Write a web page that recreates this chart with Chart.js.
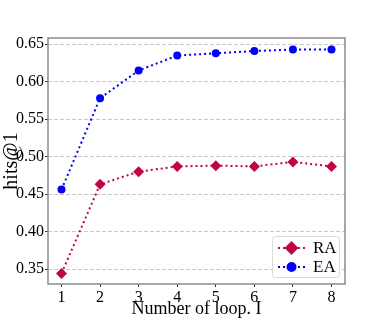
<!DOCTYPE html>
<html><head><meta charset="utf-8">
<script src="https://cdn.jsdelivr.net/npm/chart.js@4.4.0/dist/chart.umd.min.js"></script>
<style>html,body{margin:0;padding:0;background:#fff;}#wrap{width:384px;height:320px;}</style>
</head><body><div id="wrap"><canvas id="c" width="384" height="320"></canvas></div>
<script>
const loops = [1, 2, 3, 4, 5, 6, 7, 8];
const raValues = [0.344, 0.463, 0.480, 0.487, 0.488, 0.487, 0.493, 0.487];
const eaValues = [0.456, 0.578, 0.615, 0.635, 0.638, 0.641, 0.643, 0.643];
const yTicks = [0.35, 0.40, 0.45, 0.50, 0.55, 0.60, 0.65];
const xTicks = [1, 2, 3, 4, 5, 6, 7, 8];
const seriesNames = ['RA', 'EA'];

const RA_COLOR = '#c1044a';
const EA_COLOR = '#0000ff';
const FONT = '"Liberation Serif", "DejaVu Serif", serif';

const toPts = (vals) => vals.map((v, i) => ({x: loops[i], y: v}));

const boxPlugin = {
  id: 'box',
  afterDatasetsDraw(chart) {
    const a = chart.chartArea, ctx = chart.ctx;
    ctx.save();
    ctx.strokeStyle = '#8c8c8c';
    ctx.lineWidth = 1.5;
    ctx.strokeRect(a.left, a.top, a.right - a.left, a.bottom - a.top);
    ctx.restore();
  }
};

const legendPlugin = {
  id: 'innerLegend',
  afterDatasetsDraw(chart) {
    const ctx = chart.ctx, a = chart.chartArea;
    const w = 67, h = 41;
    const x0 = a.right - 6 - w, y0 = a.bottom - 7 - h;
    ctx.save();
    ctx.fillStyle = 'rgba(255,255,255,0.85)';
    ctx.strokeStyle = '#d9d9d9';
    ctx.lineWidth = 1;
    ctx.beginPath();
    ctx.roundRect(x0 + 0.5, y0 + 0.5, w, h, 3);
    ctx.fill();
    ctx.stroke();
    chart.data.datasets.forEach((ds, i) => {
      const cy = y0 + 12 + i * 19;
      const lx0 = x0 + 6, lx1 = x0 + 33;
      ctx.strokeStyle = ds.borderColor;
      ctx.lineWidth = ds.borderWidth;
      ctx.setLineDash(ds.borderDash);
      ctx.beginPath();
      ctx.moveTo(lx0, cy); ctx.lineTo(lx1, cy); ctx.stroke();
      ctx.setLineDash([]);
      Chart.helpers.drawPoint(ctx, {pointStyle: ds.pointStyle, radius: ds.pointRadius, borderWidth: 1, rotation: 0}, (lx0 + lx1) / 2, cy);
      ctx.fillStyle = ds.pointBackgroundColor;
      ctx.fill();
      ctx.fillStyle = '#000';
      ctx.font = '17px ' + FONT;
      ctx.textBaseline = 'middle';
      ctx.textAlign = 'left';
      ctx.fillText(ds.label, x0 + 41, cy + 1);
    });
    ctx.restore();
  }
};

new Chart(document.getElementById('c'), {
  type: 'line',
  data: {
    datasets: [
      {label: seriesNames[0], data: toPts(raValues), borderColor: RA_COLOR, backgroundColor: RA_COLOR,
       pointBackgroundColor: RA_COLOR, pointBorderColor: RA_COLOR, borderWidth: 2, borderDash: [2, 3],
       pointStyle: 'rectRot', pointRadius: 5.5, pointBorderWidth: 0},
      {label: seriesNames[1], data: toPts(eaValues), borderColor: EA_COLOR, backgroundColor: EA_COLOR,
       pointBackgroundColor: EA_COLOR, pointBorderColor: EA_COLOR, borderWidth: 2, borderDash: [2, 3],
       pointStyle: 'circle', pointRadius: 4, pointBorderWidth: 0}
    ]
  },
  options: {
    responsive: false,
    animation: false,
    devicePixelRatio: 1,
    layout: {padding: {top: 38, right: 39, left: 0, bottom: 0}},
    plugins: {legend: {display: false}, tooltip: {enabled: false}},
    scales: {
      x: {
        type: 'linear', min: 0.65, max: 8.35,
        afterBuildTicks: (s) => { s.ticks = xTicks.map(v => ({value: v})); },
        afterFit: (s) => { s.height = 36; },
        grid: {drawOnChartArea: false, tickLength: 3, tickColor: '#333', tickWidth: 1},
        border: {display: false},
        ticks: {color: '#000', font: {family: FONT, size: 16}, padding: 1, maxRotation: 0,
                callback: (v) => String(v)},
        title: {display: true, text: 'Number of loop. I', color: '#000', font: {family: FONT, size: 18}, padding: {top: 0, bottom: 0}}
      },
      y: {
        min: 0.33, max: 0.6584,
        afterBuildTicks: (s) => { s.ticks = yTicks.map(v => ({value: v})); },
        afterFit: (s) => { s.width = 48; },
        grid: {color: '#c8c8c8', lineWidth: 1, tickLength: 3, tickColor: '#333', tickBorderDash: [], tickWidth: 1},
        border: {display: false, dash: [4, 2]},
        ticks: {color: '#000', font: {family: FONT, size: 16}, padding: 1,
                callback: (v) => v.toFixed(2)},
        title: {display: true, text: 'hits@1', color: '#000', font: {family: FONT, size: 20}, padding: {top: 0, bottom: 1}}
      }
    }
  },
  plugins: [boxPlugin, legendPlugin]
});
</script>
</body></html>
